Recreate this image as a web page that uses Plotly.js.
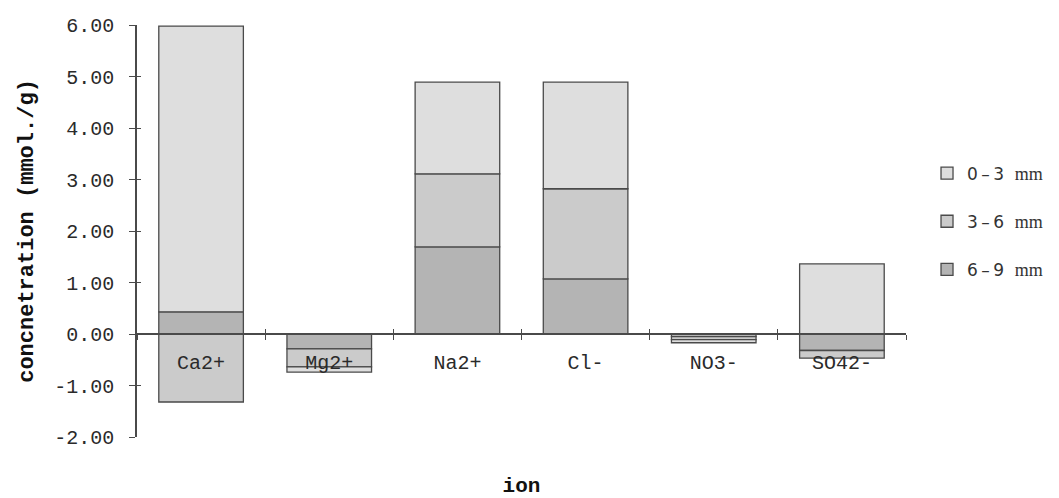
<!DOCTYPE html>
<html>
<head>
<meta charset="utf-8">
<script src="https://cdn.plot.ly/plotly-3.0.1.min.js"></script>
<style>html,body{margin:0;padding:0;background:#fff;}</style>
</head>
<body>
<div id="chart" style="width:1059px;height:498px;"></div>
<script>
// Data (mmol./g)
const categories = ['Ca2+', 'Mg2+', 'Na2+', 'Cl-', 'NO3-', 'SO42-'];
const mm6_9 = [0.43, -0.29, 1.69, 1.07, -0.05, -0.32];
const mm3_6 = [-1.32, -0.35, 1.42, 1.75, -0.06, -0.15];
const mm0_3 = [5.55, -0.10, 1.78, 2.07, -0.06, 1.36];
const yTicks = [-2, -1, 0, 1, 2, 3, 4, 5, 6];
const yTickLabels = ['-2.00', '-1.00', '0.00', '1.00', '2.00', '3.00', '4.00', '5.00', '6.00'];

const mono = 'Liberation Mono, Courier New, monospace';
const lineCol = '#4a4a4a';

function barTrace(name, vals, fill, grp, rank) {
  return {
    type: 'bar', name: name, x: categories, y: vals, width: 0.66,
    legendgroup: grp, legendrank: rank,
    marker: {color: fill, line: {color: lineCol, width: 1.3}},
    hoverinfo: 'x+y+name'
  };
}
function lbl(a, b) {
  return a + '\u2009\u2013\u2009' + b + '\u00a0\u00a0<span style="font-family:Liberation Serif;font-size:18px">mm</span>';
}

const traces = [
  barTrace(lbl('6', '9'), mm6_9, '#b4b4b4', 'g3', 3),
  barTrace(lbl('3', '6'), mm3_6, '#cbcbcb', 'g2', 2),
  barTrace(lbl('0', '3'), mm0_3, '#dedede', 'g1', 1),
  // carrier for the inner half of the crossing tick marks
  {type: 'scatter', mode: 'markers', x: categories, y: categories.map(() => null),
   xaxis: 'x2', yaxis: 'y2', showlegend: false, hoverinfo: 'skip'}
];

const layout = {
  width: 1059, height: 498,
  margin: {l: 137, r: 152, t: 25, b: 61},
  paper_bgcolor: '#ffffff', plot_bgcolor: '#ffffff',
  barmode: 'relative',
  showlegend: true,
  legend: {
    x: 1.026, xanchor: 'left', y: 0.683, yanchor: 'top',
    traceorder: 'grouped',
    font: {family: 'DejaVu Sans, sans-serif', size: 17, color: '#333'},
    bgcolor: 'rgba(0,0,0,0)', tracegroupgap: 23
  },
  xaxis: {
    type: 'category', range: [-0.5, 5.5],
    anchor: 'free', position: 0.25,
    showline: true, linecolor: lineCol, linewidth: 1.5,
    ticks: 'outside', ticklen: 5, tickcolor: lineCol, tickwidth: 1.3,
    tickson: 'boundaries', ticklabelstandoff: 10,
    showgrid: false, zeroline: false,
    tickfont: {family: mono, size: 20, color: '#2a2a2a'},
    title: {text: '<b>ion</b>', font: {family: mono, size: 21, color: '#111'}, standoff: 104}
  },
  yaxis: {
    range: [-2, 6], tickvals: yTicks, ticktext: yTickLabels,
    showline: true, linecolor: lineCol, linewidth: 1.5,
    ticks: 'outside', ticklen: 6, tickcolor: lineCol, tickwidth: 1.3,
    ticklabelstandoff: 11,
    showgrid: false, zeroline: false,
    tickfont: {family: mono, size: 20, color: '#2a2a2a'},
    title: {text: '<b>concnetration (mmol./g)</b>', font: {family: mono, size: 22, color: '#111'}, standoff: 15}
  },
  xaxis2: {
    type: 'category', range: [-0.5, 5.5], overlaying: 'x',
    anchor: 'free', position: 0.25,
    showline: false, showticklabels: false, showgrid: false, zeroline: false,
    ticks: 'inside', ticklen: 5, tickcolor: lineCol, tickwidth: 1.3,
    tickson: 'boundaries'
  },
  yaxis2: {
    range: [-2, 6], tickvals: yTicks, overlaying: 'y', side: 'left',
    anchor: 'x',
    showline: false, showticklabels: false, showgrid: false, zeroline: false,
    ticks: 'inside', ticklen: 4, tickcolor: lineCol, tickwidth: 1.3
  }
};

Plotly.newPlot('chart', traces, layout, {displayModeBar: false, responsive: false});
</script>
</body>
</html>
